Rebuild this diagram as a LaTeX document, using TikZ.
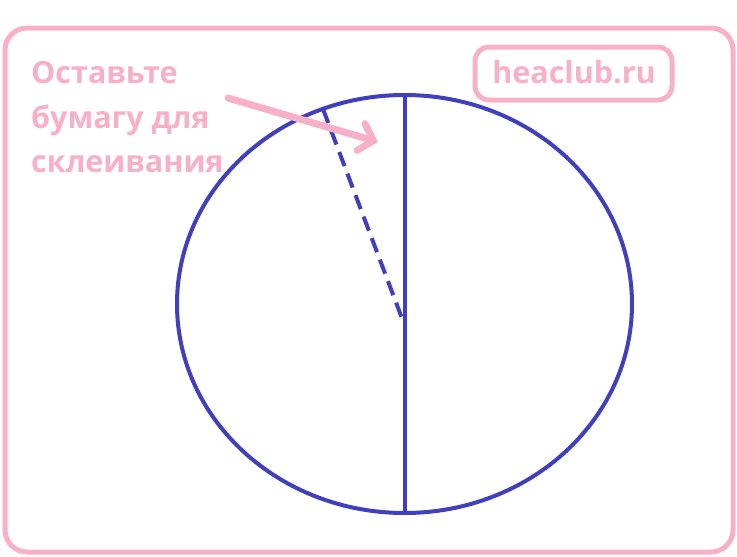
\documentclass[tikz,border=0pt]{standalone}
\usepackage{fontspec}
\setsansfont{Open Sans}
\usetikzlibrary{arrows.meta}
\definecolor{notepink}{RGB}{248,176,201}
\definecolor{cutblue}{RGB}{64,64,190}
\tikzset{notetext/.style={anchor=base west, inner sep=0pt, text=notepink,
    font=\sffamily\bfseries\fontsize{30.5}{40}\selectfont}}

\begin{document}
\begin{tikzpicture}[x=1pt, y=-1pt]
    \useasboundingbox (0,0) rectangle (737,557);
    \draw[notepink, line width=5pt, rounded corners=22pt] (5,28) rectangle (733,552);
    \coordinate (O) at (404.5,304);
    \coordinate (T) at (404.5,95);
    \coordinate (B) at (404.5,513);
    \coordinate (S) at (323,109);
    \coordinate (E) at (403,321);
    \coordinate (P) at (228,98);
    \coordinate (Q) at (378,142);
    \draw[cutblue, line width=4pt] (O) ellipse [x radius=227.5pt, y radius=209pt];
    \draw[cutblue, line width=4pt] (T) -- (B);
    \draw[cutblue, line width=4pt, dash pattern=on 15pt off 8pt] (S) -- (E);
    \draw[notepink, line width=7pt, line cap=round,
          -{Straight Barb[length=13pt, width=28pt, line cap=round]}] (P) -- (Q);
    \node[notetext] (line1) at (31,83) {Оставьте};
    \node[notetext] (line2) at (31,128) {бумагу для};
    \node[notetext] (line3) at (31,172) {склеивания};
    \node[notetext, anchor=base] (site) at (574,83) {heaclub.ru};
    \draw[notepink, line width=5pt, rounded corners=14pt] (475,47) rectangle (672,100);
\end{tikzpicture}
\end{document}
